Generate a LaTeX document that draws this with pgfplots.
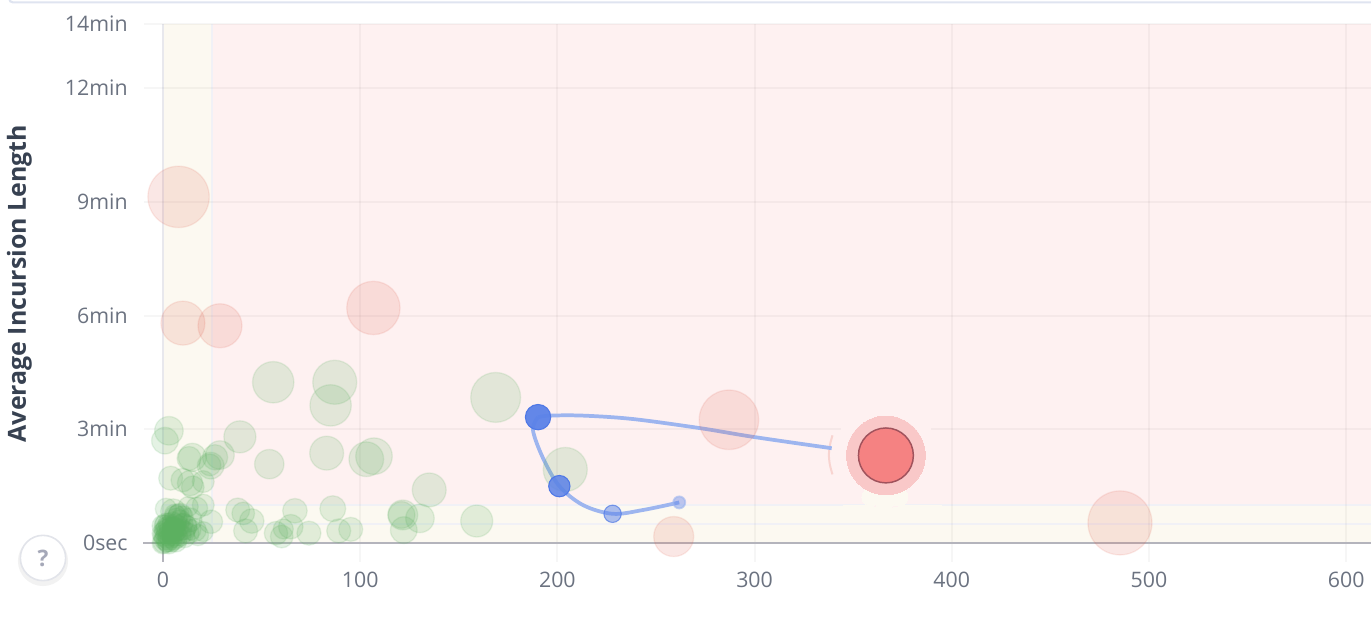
\documentclass[border=0pt]{standalone}
\usepackage{fontspec}
\setmainfont{Open Sans}
\usepackage{pgfplots}
\usepackage{pgfplotstable}
\pgfplotsset{compat=1.18}
\definecolor{bgred}{HTML}{FEF1F1}
\definecolor{bgyel}{HTML}{FCF9F1}
\definecolor{bggrn}{HTML}{F5F8F0}
\definecolor{bline}{HTML}{F1F1F6}
\definecolor{gc}{HTML}{5CB060}
\definecolor{rc}{HTML}{E0604F}
\definecolor{lblue}{HTML}{9DB5EF}
\definecolor{dblue}{HTML}{5B82E8}
\definecolor{eblue}{HTML}{4F78E6}
\definecolor{ticktxt}{HTML}{6B7280}
\definecolor{ylab}{HTML}{374151}
\definecolor{axisg}{HTML}{B4B4BC}
\definecolor{ring}{HTML}{F9C8C8}
\definecolor{core}{HTML}{F58282}
\definecolor{coreb}{HTML}{A0525C}
\definecolor{qm}{HTML}{A5A8B8}
\definecolor{edge}{HTML}{DFE4F0}
\definecolor{btn}{HTML}{E2E4EA}
\pgfplotstableread[row sep=\\]{
x y r\\
55.9 4.24 15.5\\
87.1 4.24 16.5\\
85.0 3.63 15.5\\
168.7 3.84 18.7\\
39.0 2.80 12\\
53.9 2.08 11\\
83.0 2.37 12.7\\
103.1 2.21 13\\
107.0 2.29 13.7\\
135.0 1.40 12.7\\
159.1 0.58 12\\
86.1 0.905 9.7\\
66.9 0.85 9.2\\
37.9 0.87 9\\
40.7 0.78 8.5\\
45.0 0.58 9.2\\
41.9 0.32 9\\
57.3 0.26 8.8\\
60.2 0.17 8.5\\
61.0 0.37 7.5\\
64.8 0.43 9.2\\
74.0 0.26 9\\
89.1 0.32 9\\
95.2 0.36 9\\
121.6 0.74 11.2\\
121.0 0.74 10\\
130.3 0.65 10.7\\
122.1 0.34 10\\
204.0 1.94 16.5\\
3.0 2.96 10.7\\
1.0 2.70 10\\
14.9 2.26 10.5\\
13.2 2.23 9\\
28.9 2.32 10.7\\
26.4 2.26 9.5\\
24.2 2.04 10\\
23.8 2.06 8.2\\
3.9 1.71 9\\
10.0 1.66 8.8\\
13.7 1.58 9.5\\
15.1 1.47 8.5\\
20.4 1.62 8.2\\
1.5 0.90 8\\
5.2 0.83 9.5\\
20.4 1.00 8.2\\
17.1 0.92 8.2\\
12.8 0.96 7.5\\
24.3 0.56 8.8\\
20.4 0.30 7.5\\
17.7 0.21 8\\
8.6 0.74 8.8\\
10.3 0.43 10\\
13.7 0.61 9\\
6.6 0.69 8.5\\
16.2 0.34 8.5\\
0.5 0.20 8.2\\
1.0 0.30 8.2\\
1.5 0.15 8.2\\
2.0 0.25 8.2\\
2.5 0.35 8.2\\
3.0 0.20 8.2\\
3.5 0.30 8.2\\
4.0 0.15 8.2\\
4.5 0.25 8.2\\
5.0 0.35 8.2\\
1.0 0.10 8.2\\
2.0 0.40 8.2\\
3.0 0.10 8.2\\
4.0 0.40 8.2\\
5.0 0.20 8.2\\
6.0 0.30 8.2\\
0.0 0.25 8.2\\
1.5 0.35 8.2\\
2.5 0.05 8.2\\
3.5 0.45 8.2\\
5.5 0.40 8.2\\
6.5 0.20 8.2\\
7.0 0.35 8.2\\
0.0 0.00 8.2\\
0.5 0.02 8.2\\
2.0 0.05 8.2\\
4.0 0.05 8.2\\
5.5 0.10 8.2\\
6.5 0.05 8.2\\
7.0 0.15 8.2\\
3.0 0.00 8.2\\
1.0 0.45 8.2\\
0.0 0.45 8.2\\
1.5 0.50 8.2\\
3.0 0.50 8.2\\
5.0 0.55 7.8\\
6.5 0.50 7.8\\
8.0 0.45 7.8\\
9.5 0.35 7.8\\
7.0 0.65 7.8\\
8.5 0.60 7.8\\
10.0 0.50 7.8\\
11.0 0.30 7.8\\
12.0 0.45 7.8\\
13.0 0.25 7.8\\
14.0 0.35 7.8\\
9.0 0.20 7.8\\
11.0 0.15 7.8\\
8.0 0.75 7.8\\
6.0 0.75 7.8\\
10.0 0.70 7.8\\
}\greendata
\pgfplotstableread[row sep=\\]{
x y r\\
7.9 9.13 23\\
10.1 5.80 16.5\\
28.9 5.73 16.5\\
106.7 6.20 20\\
287.0 3.25 22.3\\
485.3 0.53 24\\
259.0 0.17 15\\
}\reddata
\pgfplotstableread[row sep=\\]{x y r\\ 366.6 2.31 39\\}\halodata
\pgfplotstableread[row sep=\\]{x y r\\ 359 1.21 6.7\\ 373.2 1.21 6.7\\ 366 1.13 7.5\\}\bumpdata
\pgfplotstableread[row sep=\\]{x y r\\ 366.6 2.31 29.5\\}\ringdata
\pgfplotstableread[row sep=\\]{x y r\\ 366.6 2.31 20.6\\}\coredata
\pgfplotstableread[row sep=\\]{x y r\\ 190.2 3.32 9.5\\}\blueA
\pgfplotstableread[row sep=\\]{x y r\\ 201 1.5 8\\}\blueB
\pgfplotstableread[row sep=\\]{x y r\\ 228 0.77 6.5\\}\blueC
\pgfplotstableread[row sep=\\]{x y r\\ 261.8 1.07 4.5\\}\blueD
\pgfplotsset{
  bub/.style={scatter, only marks, mark=*, point meta=x,
    visualization depends on={\thisrow{r}\as\rr},
    scatter/@pre marker code/.append style={/tikz/mark size=\rr}},
}
\begin{document}
\begin{tikzpicture}
\path[use as bounding box] (0,0) rectangle (1028.25pt,462.75pt);
% zones
\begin{axis}[at={(122.25pt,55.5pt)},anchor=south west,scale only axis,
  width=906pt,height=389.25pt,xmin=0,xmax=612.6,ymin=0,ymax=13.69,hide axis,clip=false]
\addplot[fill=bgred,draw=none] coordinates {(25,1) (612.6,1) (612.6,13.69) (25,13.69)} -- cycle;
\addplot[fill=bgyel,draw=none] coordinates {(0,1) (25,1) (25,13.69) (0,13.69)} -- cycle;
\addplot[fill=bgyel,draw=none] coordinates {(25,0) (612.6,0) (612.6,1) (25,1)} -- cycle;
\addplot[fill=bggrn,draw=none] coordinates {(0,0) (25,0) (25,1) (0,1)} -- cycle;
\addplot[draw=bline,line width=1.5pt] coordinates {(0,0) (0,13.69)};
\addplot[draw=bline,line width=1.5pt] coordinates {(25,0) (25,13.69)};
\addplot[draw=bline,line width=1pt] coordinates {(0,1) (612.6,1)};
\addplot[draw=bline,line width=1.5pt] coordinates {(0,0.5) (612.6,0.5)};
\end{axis}
% data
\begin{axis}[at={(122.25pt,55.5pt)},anchor=south west,scale only axis,
  width=906pt,height=389.25pt,xmin=0,xmax=612.6,ymin=0,ymax=13.69,clip=false,
  axis x line=bottom, axis y line=left, axis line style={-},
  x axis line style={draw=axisg,line width=1.1pt},
  y axis line style={draw=none},
  xtick={0,100,200,300,400,500,600},
  ytick={0,3,6,9,12,13.69},
  yticklabels={0sec,3min,6min,9min,12min,14min},
  tick align=outside, major tick length=14.5pt,
  tick style={draw=black,draw opacity=0.035,line width=1.5pt},
  grid=major, grid style={draw=black,draw opacity=0.035,line width=1.5pt},
  tick label style={font=\fontsize{16}{19}\selectfont,text=ticktxt},
  /pgf/number format/assume math mode=true,
  xticklabel style={yshift=-4pt},
  yticklabel style={xshift=-8.5pt},
]
\addplot[scatter/use mapped color={draw=gc,fill=gc},bub,
  mark options={fill opacity=.17,draw opacity=.14,line width=1pt}] table {\greendata};
\addplot[scatter/use mapped color={draw=rc,fill=rc},bub,
  mark options={fill opacity=.15,draw opacity=.12,line width=1pt}] table {\reddata};
% halo and the rim of the faded bubble
\addplot[scatter/use mapped color={draw=bgred,fill=bgred},bub,
  mark options={line width=0pt}] table {\halodata};
\addplot[rc,opacity=.2,line width=1.5pt,smooth,no marks] coordinates {
(339.5,2.84) (338.2,2.58) (337.7,2.32) (338.2,2.06) (339.5,1.81)};
\addplot[fill=bgyel,draw=none] coordinates {(345,0.55) (395,0.55) (395,1) (345,1)} -- cycle;
\addplot[scatter/use mapped color={draw=bgyel,fill=bgyel},bub,
  mark options={line width=0pt}] table {\bumpdata};
\addplot[scatter/use mapped color={draw=ring,fill=ring},bub,
  mark options={line width=0pt}] table {\ringdata};
\addplot[scatter/use mapped color={draw=coreb,fill=core},bub,
  mark options={line width=1.1pt}] table {\coredata};
% track
\addplot[lblue,line width=2.8pt,smooth,tension=0.55,no marks] coordinates {
(339.1,2.50) (299.2,2.80) (272.3,3.03) (238.3,3.27) (213,3.36) (196.2,3.36) (190.2,3.32)};
\addplot[lblue,line width=2.8pt,smooth,tension=0.55,no marks] coordinates {
(190.2,3.32) (187.6,2.98) (192.7,2.24) (201,1.50) (213,1.0) (228,0.77) (243.4,0.87) (261.8,1.07)};
\addplot[scatter/use mapped color={draw=eblue,fill=dblue},bub,
  mark options={fill opacity=.95,line width=.8pt}] table {\blueA};
\addplot[scatter/use mapped color={draw=eblue,fill=dblue},bub,
  mark options={fill opacity=.85,line width=.8pt}] table {\blueB};
\addplot[scatter/use mapped color={draw=eblue,fill=dblue},bub,
  mark options={fill opacity=.5,draw opacity=.7,line width=.8pt}] table {\blueC};
\addplot[scatter/use mapped color={draw=lblue,fill=dblue},bub,
  mark options={fill opacity=.4,draw opacity=.6,line width=1.4pt}] table {\blueD};
\draw[axisg,line width=1.1pt] (axis cs:0,0) -- ++(-15pt,0);
\draw[axisg,line width=1.1pt] (axis cs:0,0) -- ++(0,-14.5pt);
\end{axis}
\node[rotate=90,font=\fontsize{18.7}{22}\selectfont\bfseries,text=ylab] at (14.5pt,250pt) {Average Incursion Length};
% top frame edge
\draw[draw=edge,line width=1.6pt] (7pt,463.5pt) arc[start angle=180,end angle=270,radius=2.5pt] -- (1028.25pt,461pt);
% help button
\fill[black,opacity=.05] (32.25pt,42pt) circle (18.8pt);
\fill[white,draw=btn,line width=1.2pt] (32.25pt,44.25pt) circle (17pt);
\node[font=\fontsize{17}{20}\selectfont\bfseries,text=qm] at (32.25pt,44.25pt) {?};
\end{tikzpicture}
\end{document}
